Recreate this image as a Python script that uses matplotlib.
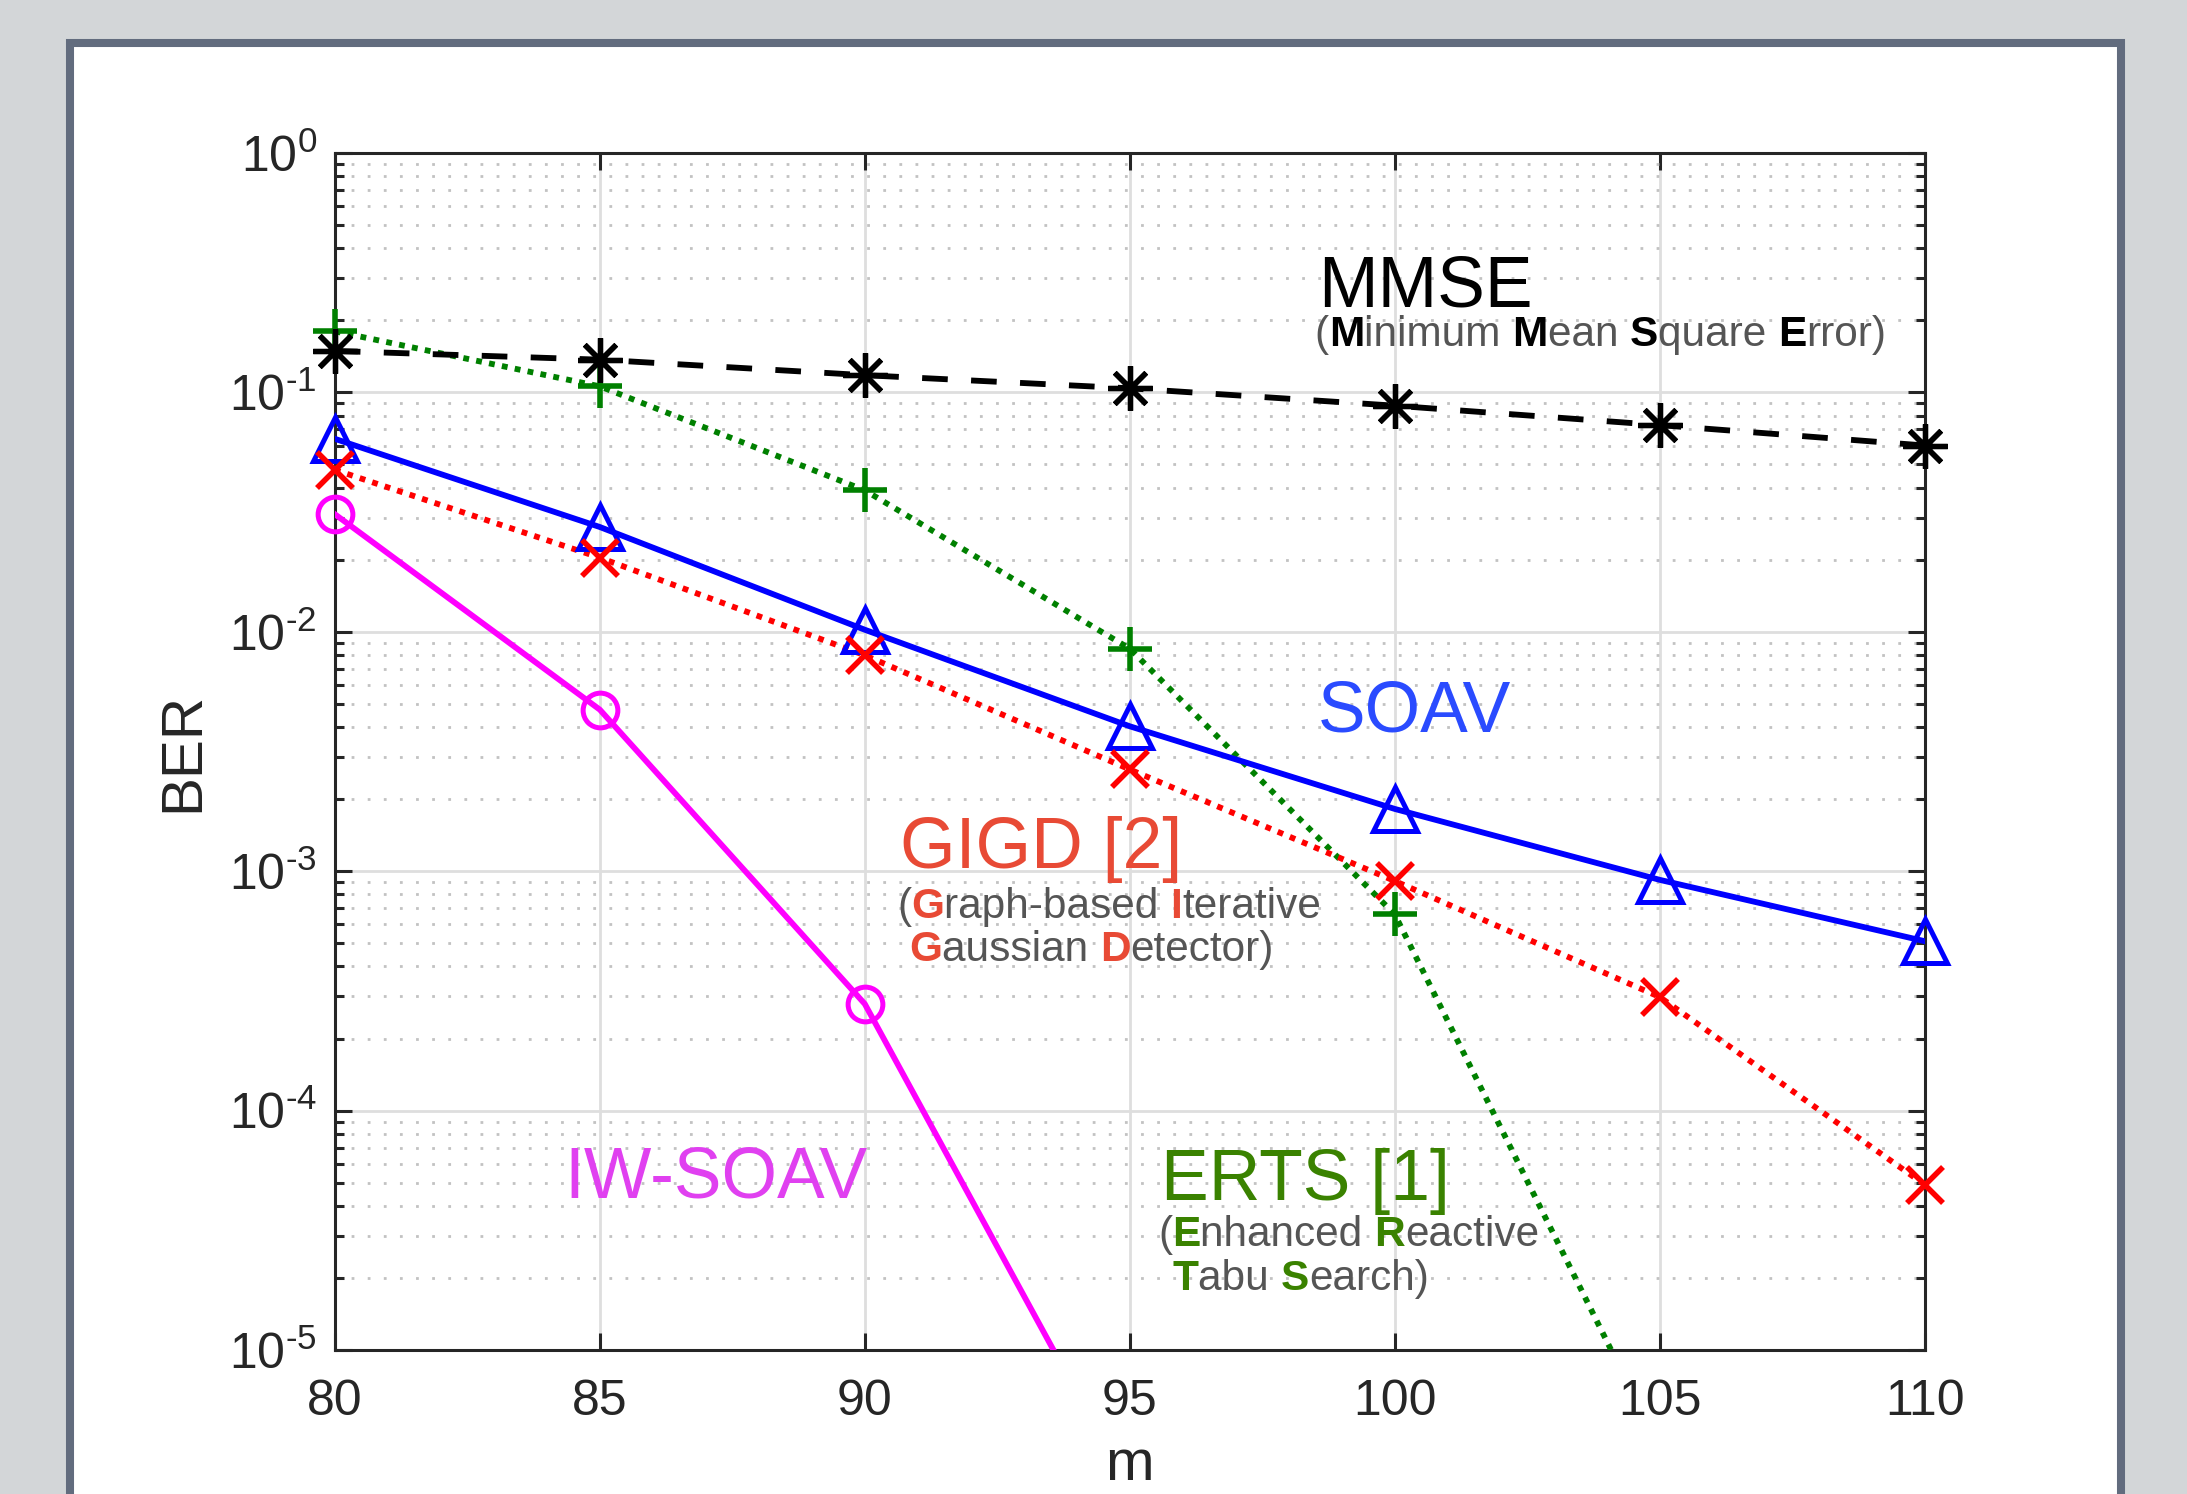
import matplotlib
matplotlib.use('Agg')
import matplotlib.pyplot as plt
import numpy as np
from matplotlib.patches import Rectangle
from matplotlib import transforms as mtransforms
from matplotlib.ticker import LogLocator, NullFormatter

plt.rcParams['font.family'] = ['Liberation Sans', 'DejaVu Sans']
plt.rcParams['mathtext.fontset'] = 'custom'
plt.rcParams['mathtext.rm'] = 'Liberation Sans'
plt.rcParams['mathtext.it'] = 'Liberation Sans:italic'
plt.rcParams['mathtext.bf'] = 'Liberation Sans:bold'

# ---------------- data ----------------
m = [80, 85, 90, 95, 100, 105, 110]
ber_mmse = [0.149, 0.137, 0.118, 0.104, 0.088, 0.073, 0.060]
m_erts = [80, 85, 90, 95, 100, 105]
ber_erts = [0.18, 0.106, 0.039, 0.0085, 6.6e-4, 3.9e-6]
ber_soav = [0.064, 0.0274, 0.0102, 0.00403, 0.00182, 9.2e-4, 5.1e-4]
ber_gigd = [0.0475, 0.0204, 0.00798, 0.00266, 9.1e-4, 2.98e-4, 4.9e-5]
m_iw = [80, 85, 90, 95]
ber_iw = [0.031, 0.00473, 2.79e-4, 2.6e-6]

xticks = [80, 85, 90, 95, 100, 105, 110]
xticklabels = ['80', '85', '90', '95', '100', '105', '110']
yticks = [1e-5, 1e-4, 1e-3, 1e-2, 1e-1, 1e0]
yticklabels = [r'$10^{\text{-}5}$', r'$10^{\text{-}4}$', r'$10^{\text{-}3}$',
               r'$10^{\text{-}2}$', r'$10^{\text{-}1}$', r'$10^{0}$']
xlabel = 'm'
ylabel = 'BER'

GRAY = '#555555'
YMIN, YMAX = 1e-5, 1.0

# ---------------- figure ----------------
W, H = 2187, 1494
fig = plt.figure(figsize=(W / 100, H / 100), dpi=100, facecolor='#d3d6d8')
panel = Rectangle((70 / W, -0.02), (2121 - 70) / W, (H - 43) / H + 0.02,
                  transform=fig.transFigure, facecolor='white', edgecolor='#626c7e',
                  linewidth=5.8, zorder=-10)
fig.patches.append(panel)

ax = fig.add_axes([334.8 / W, 144 / H, 1590 / W, 1197 / H])
ax.set_zorder(1)
ax.set_facecolor('white')
ax.set_yscale('log')
ax.set_xlim(80, 110)
ax.set_ylim(YMIN, YMAX)

lw = 4.2
DOT = (0, (1, 1.25))


def series(x, y, color, ls, marker, ms, mew, mfc=None, z=4):
    ax.plot(x, y, color=color, ls=ls, lw=lw, zorder=z)
    xa, ya = np.asarray(x, float), np.asarray(y, float)
    vis = (ya >= YMIN) & (ya <= YMAX)
    ax.plot(xa[vis], ya[vis], ls='none', marker=marker, ms=ms, mew=mew,
            mec=color, mfc=(mfc if mfc else color), zorder=z + 0.5, clip_on=False)


series(m, ber_mmse, 'black', (0, (4.4, 4.0)), (8, 2, 0), 32, 3.8, z=5)
series(m_erts, ber_erts, '#008000', DOT, '+', 32, 4.0)
series(m, ber_soav, '#0000ff', '-', '^', 31, 3.6, mfc='none')
series(m, ber_gigd, '#ff0000', DOT, 'x', 26, 4.0)
series(m_iw, ber_iw, '#ff00ff', '-', 'o', 25, 3.6, mfc='none')

ax.set_xticks(xticks)
ax.set_xticklabels(xticklabels)
ax.set_yticks(yticks)
ax.set_yticklabels(yticklabels)
ax.yaxis.set_minor_locator(LogLocator(base=10, subs=np.arange(2, 10), numticks=100))
ax.yaxis.set_minor_formatter(NullFormatter())
ax.tick_params(which='both', direction='in', top=True, right=True, colors='#262626')
ax.tick_params(which='major', length=12, width=2.2, labelsize=36)
ax.tick_params(axis='x', which='major', pad=21)
ax.tick_params(axis='y', which='major', pad=13)
ax.tick_params(which='minor', length=6.5, width=2.2)
for s in ax.spines.values():
    s.set_linewidth(2.2)
    s.set_color('#262626')
ax.set_axisbelow(True)
ax.grid(which='major', color='#dedede', lw=2.0, ls='-')
ax.grid(which='minor', axis='y', color='#c2c2c2', lw=2.0, ls=(0, (1, 4.8)))

ax.set_xlabel(xlabel, fontsize=42, color='#262626', va='baseline')
ax.xaxis.set_label_coords(0.5, -0.109)
ax.set_ylabel(ylabel, fontsize=42, color='#262626', va='baseline')
ax.yaxis.set_label_coords(-0.086, 0.5)

# ---------------- annotations ----------------
fig.canvas.draw()
renderer = fig.canvas.get_renderer()


def text_w(s, size, weight):
    t = fig.text(0, 0, s, fontsize=size, fontweight=weight)
    w = t.get_window_extent(renderer).width
    t.remove()
    return w


def adv(s, size, weight):
    return text_w('|' + s + '|', size, weight) - text_w('||', size, weight)


def rich(x, y, markup, size, hl_color):
    parts = markup.split('**')
    off = 0.0
    for i, p in enumerate(parts):
        if not p:
            continue
        bold = (i % 2 == 1)
        weight = 'bold' if bold else 'normal'
        color = hl_color if bold else GRAY
        tr = mtransforms.offset_copy(ax.transData, fig=fig, x=off, y=0, units='dots')
        ax.text(x, y, p, transform=tr, fontsize=size, fontweight=weight, color=color,
                ha='left', va='baseline', zorder=6, clip_on=False)
        off += adv(p, size, weight)


big = 51.5
sub = 30.5
ax.text(98.55, 0.2274, 'MMSE', fontsize=big, color='black', ha='left', va='baseline', zorder=6)
rich(98.49, 0.1563, '(**M**inimum **M**ean **S**quare **E**rror)', sub, 'black')

ax.text(98.55, 3.85e-3, 'SOAV', fontsize=big, color='#2a4bff', ha='left', va='baseline', zorder=6)

ax.text(90.66, 1.031e-3, 'GIGD [2]', fontsize=big, color='#e84a35', ha='left', va='baseline', zorder=6)
rich(90.61, 6.37e-4, '(**G**raph-based **I**terative', sub, '#e84a35')
rich(90.83, 4.21e-4, '**G**aussian **D**etector)', sub, '#e84a35')

ax.text(95.58, 4.23e-5, 'ERTS [1]', fontsize=big, color='#3a8200', ha='left', va='baseline', zorder=6)
rich(95.53, 2.72e-5, '(**E**nhanced **R**eactive', sub, '#3a8200')
rich(95.80, 1.78e-5, '**T**abu **S**earch)', sub, '#3a8200')

ax.text(84.34, 4.35e-5, 'IW-SOAV', fontsize=big, color='#e040f0', ha='left', va='baseline', zorder=6)

fig.savefig('out.png', dpi=100, facecolor=fig.get_facecolor())
